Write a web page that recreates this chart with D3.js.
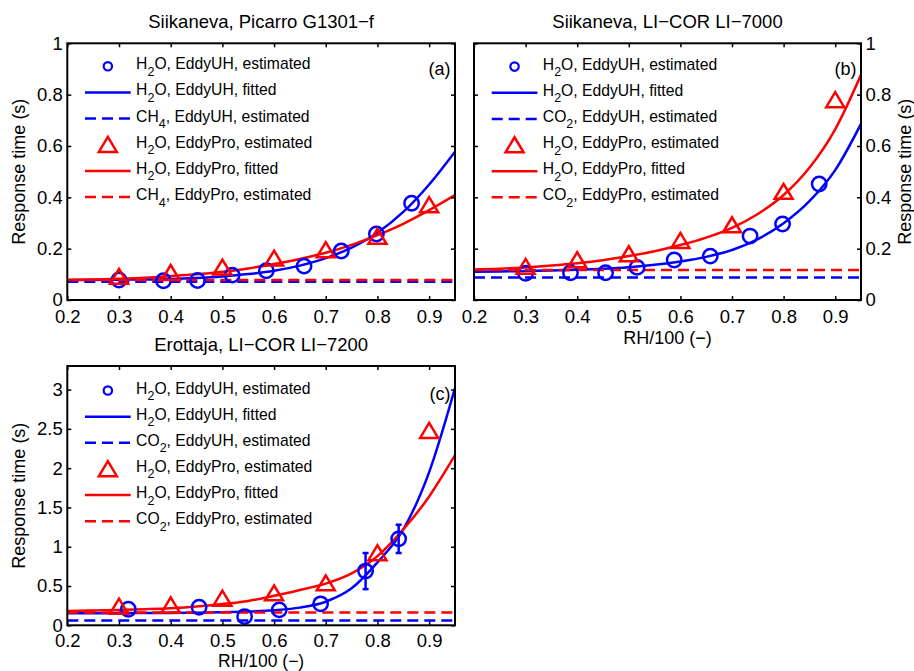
<!DOCTYPE html>
<html><head><meta charset="utf-8">
<script src="https://cdn.jsdelivr.net/npm/d3@7"></script>
<style>
body{margin:0;background:#fff}
svg{display:block}
text{font-family:"Liberation Sans",Arial,Helvetica,sans-serif;fill:#000}
</style>
</head><body>
<svg id="chart" width="914" height="671"></svg>
<script>
// ---------------- data ----------------
const xTicks = [0.2, 0.3, 0.4, 0.5, 0.6, 0.7, 0.8, 0.9];
const yTicksAB = [0, 0.2, 0.4, 0.6, 0.8, 1];
const yTicksC = [0, 0.5, 1, 1.5, 2, 2.5, 3];

const fitRH = [0.2, 0.25, 0.3, 0.35, 0.4, 0.45, 0.5, 0.55, 0.6, 0.65, 0.7, 0.75, 0.8, 0.85, 0.9, 0.95];

// panel (a) Siikaneva, Picarro
const aRhUH = [0.300, 0.386, 0.452, 0.519, 0.585, 0.658, 0.730, 0.798, 0.866];
const aTauUH = [0.078, 0.075, 0.076, 0.097, 0.114, 0.132, 0.191, 0.257, 0.377];
const aFitUH = [0.077, 0.078, 0.079, 0.080, 0.082, 0.086, 0.092, 0.101, 0.114, 0.134, 0.163, 0.204, 0.262, 0.343, 0.450, 0.578];
const aGasUH = 0.071;
const rhPro = [0.3, 0.4, 0.5, 0.6, 0.7, 0.8, 0.9];
const aTauPro = [0.091, 0.106, 0.127, 0.162, 0.195, 0.247, 0.370];
const aFitPro = [0.078, 0.080, 0.083, 0.087, 0.093, 0.100, 0.110, 0.123, 0.140, 0.160, 0.184, 0.215, 0.253, 0.297, 0.350, 0.409];
const aGasPro = 0.078;

// panel (b) Siikaneva, LI-7000
const bRhUH = [0.300, 0.387, 0.455, 0.516, 0.588, 0.658, 0.735, 0.798, 0.869];
const bTauUH = [0.104, 0.106, 0.106, 0.127, 0.156, 0.171, 0.249, 0.296, 0.452];
const bFitUH = [0.110, 0.111, 0.113, 0.115, 0.118, 0.122, 0.128, 0.137, 0.150, 0.168, 0.195, 0.237, 0.299, 0.385, 0.506, 0.686];
const bGasUH = 0.088;
const bTauPro = [0.130, 0.156, 0.179, 0.231, 0.292, 0.422, 0.779];
const bFitPro = [0.119, 0.122, 0.127, 0.134, 0.143, 0.155, 0.171, 0.190, 0.214, 0.243, 0.281, 0.335, 0.409, 0.515, 0.665, 0.877];
const bGasPro = 0.117;

// panel (c) Erottaja, LI-7200
const cRhUH = [0.318, 0.455, 0.543, 0.610, 0.690, 0.777, 0.841];
const cTauUH = [0.205, 0.230, 0.111, 0.196, 0.273, 0.690, 1.100];
const cErrUH = [0, 0, 0, 0, 0, 0.23, 0.18];
const cFitUH = [0.153, 0.154, 0.155, 0.156, 0.158, 0.161, 0.166, 0.175, 0.192, 0.225, 0.300, 0.470, 0.800, 1.220, 1.950, 3.020];
const cGasUH = 0.060;
const cTauPro = [0.239, 0.256, 0.341, 0.409, 0.537, 0.920, 2.476];
const cFitPro = [0.183, 0.189, 0.196, 0.205, 0.217, 0.238, 0.270, 0.310, 0.375, 0.450, 0.530, 0.660, 0.880, 1.220, 1.640, 2.165];
const cGasPro = 0.162;

const titles = ["Siikaneva, Picarro G1301\u2212f", "Siikaneva, LI\u2212COR LI\u22127000", "Erottaja, LI\u2212COR LI\u22127200"];
const panelTags = ["(a)", "(b)", "(c)"];
const gasNames = [["CH", "4"], ["CO", "2"], ["CO", "2"]];
const yLabel = "Response time (s)";
const xLabel = "RH/100 (\u2212)";

// ---------------- drawing ----------------
const BLUE = "#0000ff", RED = "#ff0000";
const svg = d3.select("#chart");
const FS = 18.5, LFS = 15.7;

const triType = {
  draw(ctx) {
    ctx.moveTo(0, -7.8);
    ctx.lineTo(9, 7.2);
    ctx.lineTo(-9, 7.2);
    ctx.closePath();
  }
};

function richText(sel, parts) {
  sel.append("tspan").text(parts[0]);
  sel.append("tspan").attr("dy", 6.5).attr("font-size", 12.5).text(parts[1]);
  sel.append("tspan").attr("dy", -6.5).text(parts[2]);
}

function panel(cfg, idx) {
  const {L, R, T, B, yMax, yTicks, rhUH, tauUH, errUH, fitUH, gasUH, tauPro, fitPro, gasPro,
         rightLabels, showX, xLabOff, xLabFs, xPad, legOff, tagOff} = cfg;
  const x = d3.scaleLinear().domain([0.2, 0.95]).range([L, R]);
  const y = d3.scaleLinear().domain([0, yMax]).range([B, T]);
  const g = svg.append("g");
  const cid = "clip" + idx;
  svg.append("clipPath").attr("id", cid).append("rect")
    .attr("x", L).attr("y", T).attr("width", R - L).attr("height", B - T);
  const dg = g.append("g").attr("clip-path", `url(#${cid})`);
  const line = d3.line().x((d, i) => x(fitRH[i])).y(d => y(d)).curve(d3.curveMonotoneX);

  // blue estimated (circles with error bars)
  const eb = g.append("g").attr("stroke", BLUE).attr("stroke-width", 2.5).attr("fill", "none");
  rhUH.forEach((r, i) => {
    const e = errUH ? errUH[i] : 0;
    if (e > 0) {
      eb.append("line").attr("x1", x(r)).attr("x2", x(r)).attr("y1", y(tauUH[i] - e)).attr("y2", y(tauUH[i] + e));
      [tauUH[i] - e, tauUH[i] + e].forEach(v => eb.append("line")
        .attr("x1", x(r) - 3).attr("x2", x(r) + 3).attr("y1", y(v)).attr("y2", y(v)));
    }
  });
  g.append("g").selectAll("circle").data(rhUH).join("circle")
    .attr("cx", d => x(d)).attr("cy", (d, i) => y(tauUH[i])).attr("r", 7.2)
    .attr("fill", "none").attr("stroke", BLUE).attr("stroke-width", 2.5);
  // blue fitted
  dg.append("path").datum(fitUH).attr("d", line).attr("fill", "none").attr("stroke", BLUE).attr("stroke-width", 2.5);
  // blue gas dashed
  dg.append("line").attr("x1", x(0.2)).attr("x2", x(0.95)).attr("y1", y(gasUH)).attr("y2", y(gasUH))
    .attr("stroke", BLUE).attr("stroke-width", 2.5).attr("stroke-dasharray", "11,6");
  // red triangles
  g.append("g").selectAll("path").data(rhPro).join("path")
    .attr("d", d3.symbol(triType))
    .attr("transform", (d, i) => `translate(${x(d)},${y(tauPro[i])})`)
    .attr("fill", "none").attr("stroke", RED).attr("stroke-width", 2.5);
  // red fitted
  dg.append("path").datum(fitPro).attr("d", line).attr("fill", "none").attr("stroke", RED).attr("stroke-width", 2.5);
  // red gas dashed
  dg.append("line").attr("x1", x(0.2)).attr("x2", x(0.95)).attr("y1", y(gasPro)).attr("y2", y(gasPro))
    .attr("stroke", RED).attr("stroke-width", 2.5).attr("stroke-dasharray", "11,6");

  // axes (ticks inward on all sides)
  const fmt = d3.format("~g");
  const ax = g.append("g").attr("font-size", FS);
  ax.append("g").attr("transform", `translate(0,${B})`)
    .call(d3.axisBottom(x).tickValues(xTicks).tickSizeInner(-4).tickSizeOuter(0).tickPadding(xPad).tickFormat(fmt));
  ax.append("g").attr("transform", `translate(0,${T})`)
    .call(d3.axisTop(x).tickValues(xTicks).tickSizeInner(-4).tickSizeOuter(0).tickFormat(""));
  ax.append("g").attr("transform", `translate(${L},0)`)
    .call(d3.axisLeft(y).tickValues(yTicks).tickSizeInner(-4).tickSizeOuter(0).tickPadding(4.5)
      .tickFormat(rightLabels ? "" : fmt));
  ax.append("g").attr("transform", `translate(${R},0)`)
    .call(d3.axisRight(y).tickValues(yTicks).tickSizeInner(-4).tickSizeOuter(0).tickPadding(4.5)
      .tickFormat(rightLabels ? fmt : ""));
  ax.selectAll(".domain").remove();
  ax.selectAll(".tick line").attr("stroke", "#000").attr("stroke-width", 1.5);
  ax.selectAll("text").attr("font-family", "Liberation Sans, Arial, sans-serif").attr("fill", "#000")
    .attr("font-size", FS);
  g.append("rect").attr("x", L).attr("y", T).attr("width", R - L).attr("height", B - T)
    .attr("fill", "none").attr("stroke", "#000").attr("stroke-width", 2);

  // title
  g.append("text").attr("x", (L + R) / 2).attr("y", T - 15).attr("text-anchor", "middle")
    .attr("font-size", FS).text(titles[idx]);
  // panel tag
  g.append("text").attr("x", R - 4.5).attr("y", T + tagOff).attr("text-anchor", "end")
    .attr("font-size", 18).text(panelTags[idx]);
  // y label
  const ylx = rightLabels ? 910.5 : 24.6;
  g.append("text").attr("transform", `translate(${ylx},${(T + B) / 2}) rotate(-90)`)
    .attr("text-anchor", "middle").attr("font-size", 18).text(yLabel);
  // x label
  if (showX) g.append("text").attr("x", (L + R) / 2).attr("y", B + xLabOff).attr("text-anchor", "middle")
    .attr("font-size", xLabFs).text(xLabel);

  // legend
  const gas = gasNames[idx];
  const legItems = [
    {k: "circle", c: BLUE, t: ["H", "2", "O, EddyUH, estimated"]},
    {k: "solid", c: BLUE, t: ["H", "2", "O, EddyUH, fitted"]},
    {k: "dash", c: BLUE, t: [gas[0], gas[1], ", EddyUH, estimated"]},
    {k: "tri", c: RED, t: ["H", "2", "O, EddyPro, estimated"]},
    {k: "solid", c: RED, t: ["H", "2", "O, EddyPro, fitted"]},
    {k: "dash", c: RED, t: [gas[0], gas[1], ", EddyPro, estimated"]}
  ];
  const lg = g.append("g");
  const lx0 = L + 17.7, lx1 = L + 63.4, tx = L + 68.8;
  legItems.forEach((it, i) => {
    const ry = T + legOff + i * 26.15;
    if (it.k === "circle") {
      lg.append("circle").attr("cx", (lx0 + lx1) / 2).attr("cy", ry).attr("r", 4.2)
        .attr("fill", "none").attr("stroke", it.c).attr("stroke-width", 2.2);
    } else if (it.k === "tri") {
      lg.append("path").attr("d", d3.symbol(triType)).attr("transform", `translate(${(lx0 + lx1) / 2},${ry})`)
        .attr("fill", "none").attr("stroke", it.c).attr("stroke-width", 2.5);
    } else {
      lg.append("line").attr("x1", lx0).attr("x2", lx1).attr("y1", ry).attr("y2", ry)
        .attr("stroke", it.c).attr("stroke-width", 2.5)
        .attr("stroke-dasharray", it.k === "dash" ? "11,6" : null);
    }
    const t = lg.append("text").attr("x", tx).attr("y", ry + 3).attr("font-size", LFS);
    richText(t, it.t);
  });
}

const panels = [
  {L: 67.3, R: 455, T: 43.3, B: 300, yMax: 1, yTicks: yTicksAB, rhUH: aRhUH, tauUH: aTauUH, errUH: null,
   fitUH: aFitUH, gasUH: aGasUH, tauPro: aTauPro, fitPro: aFitPro, gasPro: aGasPro, rightLabels: false,
   showX: false, xLabOff: 44, xLabFs: 18, xPad: 9.6, legOff: 23, tagOff: 31.7},
  {L: 474, R: 861, T: 43.3, B: 300, yMax: 1, yTicks: yTicksAB, rhUH: bRhUH, tauUH: bTauUH, errUH: null,
   fitUH: bFitUH, gasUH: bGasUH, tauPro: bTauPro, fitPro: bFitPro, gasPro: bGasPro, rightLabels: true,
   showX: true, xLabOff: 44, xLabFs: 18, xPad: 9.6, legOff: 23.3, tagOff: 31.7},
  {L: 67.3, R: 455, T: 366, B: 625.3, yMax: 3.3, yTicks: yTicksC, rhUH: cRhUH, tauUH: cTauUH, errUH: cErrUH,
   fitUH: cFitUH, gasUH: cGasUH, tauPro: cTauPro, fitPro: cFitPro, gasPro: cGasPro, rightLabels: false,
   showX: true, xLabOff: 41.9, xLabFs: 17.5, xPad: 8.5, legOff: 24.5, tagOff: 34}
];
panels.forEach((p, i) => panel(p, i));
</script>
</body></html>
